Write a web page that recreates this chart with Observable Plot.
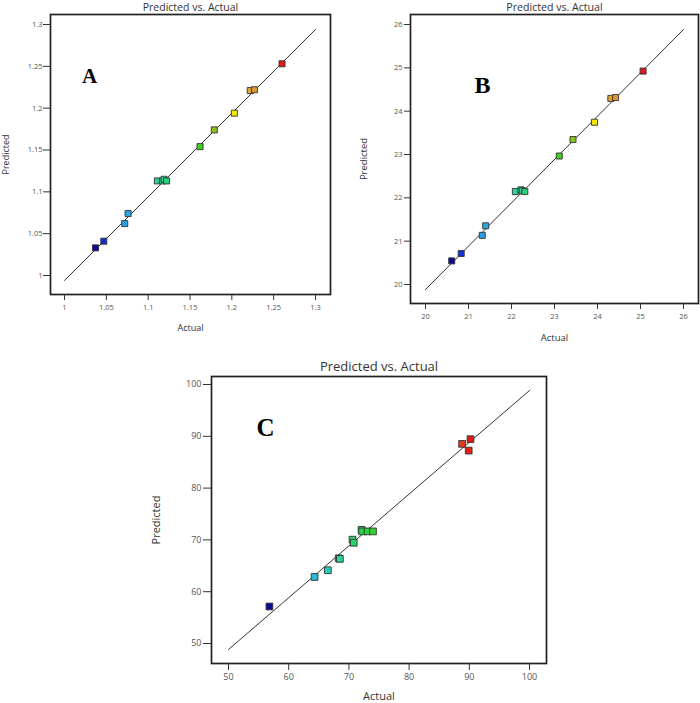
<!DOCTYPE html>
<html><head><meta charset="utf-8">
<script src="https://cdn.jsdelivr.net/npm/d3@7"></script>
<script src="https://cdn.jsdelivr.net/npm/@observablehq/plot@0.6"></script>
<style>
html,body{margin:0;padding:0;background:#fff;}
#wrap{position:relative;width:700px;height:703px;overflow:hidden;}
</style></head><body><div id="wrap"></div>
<script>
// Panel A
const actualA = [1.037, 1.047, 1.072, 1.076, 1.111, 1.117, 1.119, 1.122, 1.162, 1.179, 1.203, 1.222, 1.227, 1.260];
const predA   = [1.039, 1.047, 1.068, 1.080, 1.119, 1.119, 1.121, 1.119, 1.160, 1.180, 1.200, 1.227, 1.228, 1.259];
const ticksA  = [1, 1.05, 1.1, 1.15, 1.2, 1.25, 1.3];
// Panel B
const actualB = [20.61, 20.83, 21.32, 21.40, 22.09, 22.22, 22.25, 22.31, 23.11, 23.43, 23.93, 24.31, 24.42, 25.06];
const predB   = [20.66, 20.83, 21.25, 21.47, 22.26, 22.30, 22.28, 22.26, 23.08, 23.46, 23.86, 24.41, 24.43, 25.04];
const ticksB  = [20, 21, 22, 23, 24, 25, 26];
// Panel C
const actualC = [56.8, 64.3, 66.5, 68.3, 68.5, 70.6, 70.8, 72.1, 72.2, 73.1, 74.0, 88.8, 90.2, 89.9];
const predC   = [58.3, 64.0, 65.3, 67.6, 67.5, 71.2, 70.6, 73.1, 72.8, 72.8, 72.8, 89.7, 90.6, 88.4];
const ticksC  = [50, 60, 70, 80, 90, 100];

const titleText = "Predicted vs. Actual";
const xLabel = "Actual";
const yLabel = "Predicted";
const letters = ["A", "B", "C"];

// rainbow colour stops (Design-Expert style)
const stopT = [0, 0.05, 0.16, 0.25, 0.34, 0.48, 0.56, 0.64, 0.74, 0.84, 1];
const stopC = ["#0a0a9a", "#1530d8", "#2aa0e8", "#20c8d0", "#28d49a", "#28d040", "#40d020", "#90c020", "#f0f000", "#e0a030", "#e01818"];

const fmt = d => String(+d.toFixed(3));

function panel(cfg) {
  const data = cfg.actual.map((a, i) => ({actual: a, pred: cfg.pred[i]}));
  const [lo, hi] = d3.extent(cfg.actual);
  const diag = [cfg.ticks[0], cfg.ticks[cfg.ticks.length - 1]];
  const fs = cfg.fs;
  const mid = {textAnchor: "middle", lineAnchor: "middle"};
  return Plot.plot({
    width: cfg.width, height: cfg.height,
    marginLeft: cfg.m[0], marginTop: cfg.m[1], marginRight: cfg.m[2], marginBottom: cfg.m[3],
    style: {position: "absolute", left: cfg.left + "px", top: cfg.top + "px", fontFamily: "'Open Sans', sans-serif",
            fontSize: fs.tick + "px", background: "transparent", overflow: "visible", color: "#333"},
    x: {domain: diag, insetLeft: cfg.ins[0], insetRight: cfg.ins[2]},
    y: {domain: diag, insetTop: cfg.ins[1], insetBottom: cfg.ins[3]},
    color: {type: "linear", domain: stopT.map(t => lo + t * (hi - lo)), range: stopC},
    marks: [
      Plot.line(diag, {x: d => d, y: d => d, stroke: "#333", strokeWidth: 1}),
      Plot.dot(data, {x: "actual", y: "pred", fill: "actual", symbol: "square", r: cfg.r, stroke: "#333", strokeWidth: 0.9}),
      Plot.frame({stroke: "#222", strokeWidth: 1.7}),
      Plot.axisX({ticks: cfg.ticks, tickFormat: fmt, tickSize: cfg.tx[0], tickPadding: cfg.tx[1], label: null, stroke: "#333", fill: "#555", fontSize: fs.tick}),
      Plot.axisY({ticks: cfg.ticks, tickFormat: fmt, tickSize: cfg.ty[0], tickPadding: cfg.ty[1], dy: cfg.ty[2], label: null, stroke: "#333", fill: "#555", fontSize: fs.tick}),
      Plot.text([titleText], {text: d => d, frameAnchor: "top", dy: cfg.titleDy, fontSize: fs.title, fill: "#333", ...mid}),
      Plot.text([xLabel], {text: d => d, frameAnchor: "bottom", dy: cfg.xlDy, fontSize: fs.label, fill: "#333", ...mid}),
      Plot.text([yLabel], {text: d => d, frameAnchor: "left", dx: cfg.ylDx, rotate: -90, fontSize: fs.label, fill: "#333", ...mid}),
      Plot.text([cfg.letter], {text: d => d, frameAnchor: "top-left", dx: cfg.letterPos[0], dy: cfg.letterPos[1],
        fontFamily: "'Liberation Serif', 'Times New Roman', serif", fontWeight: "bold", fontSize: fs.letter, fill: "#000", ...mid})
    ]
  });
}

const wrap = document.getElementById("wrap");
wrap.appendChild(panel({
  actual: actualA, pred: predA, ticks: ticksA, letter: letters[0],
  left: 0, top: 0, width: 345, height: 340, m: [50, 14, 15, 46], ins: [14, 15, 15, 14],
  tx: [6, 4], ty: [7, 1, -5], r: 3.4, titleDy: -7, xlDy: 34, ylDx: -44, letterPos: [39, 62],
  fs: {tick: 7.5, title: 10.5, label: 9, letter: 21}
}));
wrap.appendChild(panel({
  actual: actualB, pred: predB, ticks: ticksB, letter: letters[1],
  left: 350, top: 0, width: 350, height: 345, m: [60, 14, 2, 42], ins: [15, 15, 15, 14],
  tx: [6, 4], ty: [6, 2, -5], r: 3.4, titleDy: -7, xlDy: 34, ylDx: -47, letterPos: [72, 71],
  fs: {tick: 7.5, title: 10.6, label: 9.5, letter: 24}
}));
wrap.appendChild(panel({
  actual: actualC, pred: predC, ticks: ticksC, letter: letters[2],
  left: 140, top: 340, width: 420, height: 363, m: [71, 36, 14, 40], ins: [17, 14, 17, 14],
  tx: [7, 3], ty: [8, 2, -6], r: 3.8, titleDy: -10, xlDy: 32.5, ylDx: -55, letterPos: [54, 51],
  fs: {tick: 9, title: 13, label: 11, letter: 25}
}));
</script></body></html>
